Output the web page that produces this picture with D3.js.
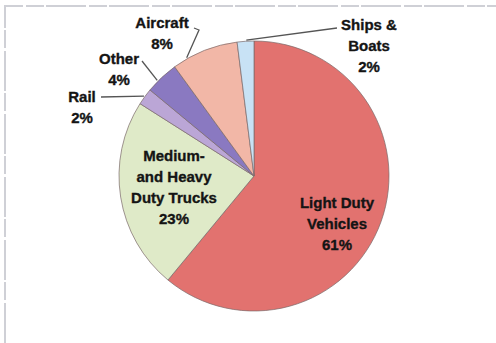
<!DOCTYPE html>
<html>
<head>
<meta charset="utf-8">
<script src="https://cdn.jsdelivr.net/npm/d3@7"></script>
<style>
  html, body { margin: 0; padding: 0; background: #fff; }
  svg { display: block; }
  text { font-family: "Liberation Sans", Arial, sans-serif; font-weight: bold; fill: #141414; stroke: #141414; stroke-width: 0.35px; }
</style>
</head>
<body>
<svg id="chart" width="496" height="343"></svg>
<script>
// Transportation energy use by mode (share, %)
const categories = ["Light Duty Vehicles", "Medium- and Heavy Duty Trucks", "Rail", "Other", "Aircraft", "Ships & Boats"];
const shares = [61, 23, 2, 4, 8, 2];
const colors = ["#e2726f", "#dfeac8", "#bba6d6", "#8a79c1", "#f2b7a7", "#c8e2f5"];
const labelLines = [
  ["Light Duty", "Vehicles", "61%"],
  ["Medium-", "and Heavy", "Duty Trucks", "23%"],
  ["Rail", "2%"],
  ["Other", "4%"],
  ["Aircraft", "8%"],
  ["Ships &", "Boats", "2%"]
];

const svg = d3.select("#chart");
const W = 496, H = 343;
const cx = 254, cy = 176, r = 135;

// frame lines along top and left
svg.append("path")
  .attr("d", `M5,${H} L5,6 L${W},6`)
  .attr("fill", "none")
  .attr("stroke", "#cfd0d6")
  .attr("stroke-width", 2)
  .attr("stroke-dasharray", "40,3,18,2");

const data = categories.map((c, i) => ({ name: c, value: shares[i], color: colors[i], lines: labelLines[i] }));

const pie = d3.pie().value(d => d.value).sort(null);
const arcs = pie(data);
const arc = d3.arc().innerRadius(0).outerRadius(r);

const g = svg.append("g").attr("transform", `translate(${cx},${cy})`);

g.selectAll("path.slice")
  .data(arcs)
  .join("path")
  .attr("class", "slice")
  .attr("d", arc)
  .attr("fill", d => d.data.color)
  .attr("stroke", "#7a6a6a")
  .attr("stroke-opacity", 0.7)
  .attr("stroke-width", 1);

// point on the rim at an angle inside a slice (fraction t across it)
function rimPoint(a, t, rad) {
  const ang = a.startAngle + (a.endAngle - a.startAngle) * t;
  return [cx + Math.sin(ang) * rad, cy - Math.cos(ang) * rad];
}

const lineH = 21;
function drawLabel(lines, x, y) {
  const t = svg.append("text")
    .attr("text-anchor", "middle")
    .attr("font-size", 15);
  lines.forEach((s, i) => {
    t.append("tspan").attr("x", x).attr("y", y + i * lineH).text(s);
  });
}

// labels inside the two big slices
const inside = [
  { i: 0, x: 337, y: 208 },
  { i: 1, x: 174, y: 161 }
];
inside.forEach(o => drawLabel(arcs[o.i].data.lines, o.x, o.y));

// outside labels with leader lines
const outside = [
  { i: 2, x: 82, y: 102, line: [[101, 97]], t: 0.5 },
  { i: 3, x: 119, y: 64, line: [[142, 61]], t: 0.35 },
  { i: 4, x: 162, y: 28, line: [[194, 28], [199, 30]], t: 0.22 },
  { i: 5, x: 369, y: 30, line: [[337, 28]], t: 0.55 }
];
outside.forEach(o => {
  const a = arcs[o.i];
  drawLabel(a.data.lines, o.x, o.y);
  const p = rimPoint(a, o.t, r + 1);
  const pts = o.line.concat([p]);
  svg.append("path")
    .attr("d", d3.line()(pts))
    .attr("fill", "none")
    .attr("stroke", "#555")
    .attr("stroke-width", 1.3);
});
</script>
</body>
</html>
